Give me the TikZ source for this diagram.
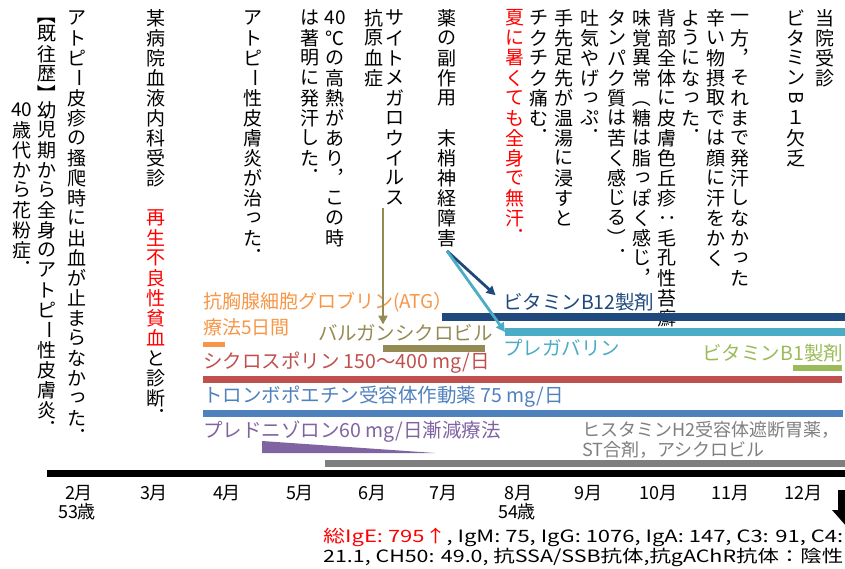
\documentclass[tikz,border=0pt]{standalone}
\usepackage{fontspec}
\setmainfont{Noto Sans CJK JP}
\usepackage{graphicx}
\usetikzlibrary{arrows.meta}
\XeTeXuseglyphmetrics=1
\definecolor{cOrange}{HTML}{F79646}
\definecolor{cOlive}{HTML}{948A54}
\definecolor{cNavy}{HTML}{1F497D}
\definecolor{cLblue}{HTML}{4BACC6}
\definecolor{cGreen}{HTML}{9BBB59}
\definecolor{cRed}{HTML}{C0504D}
\definecolor{cBlue}{HTML}{4F81BD}
\definecolor{cPurple}{HTML}{8064A2}
\definecolor{cGray}{HTML}{7F7F7F}
\definecolor{cAlert}{HTML}{FF0000}
\makeatletter
\newdimen\vt@pitch \vt@pitch=20pt
\def\vt@end{}
\def\vt@endmark{\vt@end}
\newcommand\vstack[1]{\vbox{\offinterlineskip\vt@loop#1\vt@end}}
\def\vt@loop#1{\def\vt@arg{#1}\ifx\vt@arg\vt@endmark\else\vt@cell{#1}\expandafter\vt@loop\fi}
\def\vt@box#1{\vbox to\vt@pitch{\vss\hbox to1em{\hss#1\hss}\vss}}
\def\vt@cell#1{%
 \ifcsname vtrot@\detokenize{#1}\endcsname
   \vt@box{\rotatebox[origin=c]{-90}{#1}}%
 \else\ifcsname vtpun@\detokenize{#1}\endcsname
   \vbox to\vt@pitch{\kern0.05em\hbox to1em{\kern0.58em\rlap{#1}\hss}\vss}%
 \else\ifcsname vtsml@\detokenize{#1}\endcsname
   \vt@box{\kern0.15em\raisebox{0.08em}{#1}}%
 \else\ifcsname vtbro@\detokenize{#1}\endcsname
   \vbox to0.8\vt@pitch{\vss\hbox to1em{\hss\rotatebox[origin=c]{-90}{#1}\hss}\kern0pt}%
 \else\ifcsname vtbrc@\detokenize{#1}\endcsname
   \vbox to0.8\vt@pitch{\hbox to1em{\hss\rotatebox[origin=c]{-90}{#1}\hss}\vss}%
 \else
   \vt@box{#1}%
 \fi\fi\fi\fi\fi}
\def\vt@def#1#2{\expandafter\def\csname vt#1@\detokenize{#2}\endcsname{}}
\vt@def{rot}{ー}\vt@def{rot}{（}\vt@def{rot}{）}\vt@def{rot}{：}\vt@def{rot}{B}
\vt@def{pun}{，}\vt@def{pun}{．}
\vt@def{sml}{っ}\vt@def{sml}{ッ}\vt@def{sml}{ゃ}\vt@def{sml}{ゅ}\vt@def{sml}{ょ}
\vt@def{bro}{【}\vt@def{brc}{】}
\makeatother
\newcommand\vsp{\hbox{}}
\tikzset{
  vcol/.style={anchor=north, inner sep=0pt, outer sep=0pt, font=\fontsize{19}{20}\selectfont},
  lbl/.style={anchor=west, inner sep=0pt, outer sep=0pt, font=\fontsize{19.5}{22}\selectfont},
  mon/.style={inner sep=0pt, font=\fontsize{18}{20}\selectfont},
  bar/.style={anchor=north west, inner sep=0pt, outer sep=0pt, draw=none},
  arr/.style={line width=2.8pt, -{Triangle[length=9pt,width=9pt]}}
}
\begin{document}
\begin{tikzpicture}[x=1pt,y=-1pt]
\useasboundingbox (0,0) rectangle (845,569);
% vertical columns
\node[vcol] (c1) at (825,8) {\vstack{当院受診}};
\node[vcol] (c2) at (796,8) {\vstack{ビタミンB１欠乏}};
\node[vcol] (c3) at (740,8) {\vstack{一方，それまで発汗しなかった}};
\node[vcol] (c4) at (716,8) {\vstack{辛い物摂取では顔に汗をかく}};
\node[vcol] (c5) at (691,8) {\vstack{ようになった．}};
\node[vcol] (c6) at (667,8) {\vstack{背部全体に皮膚色丘疹：毛孔性苔癬}};
\node[vcol] (c7) at (642,8) {\vstack{味覚異常（糖は脂っぽく感じ，}};
\node[vcol] (c8) at (617,8) {\vstack{タンパク質は苦く感じる）．}};
\node[vcol] (c9) at (590,8) {\vstack{吐気やげっぷ．}};
\node[vcol] (c10) at (564,8) {\vstack{手先足先が温湯に浸すと}};
\node[vcol] (c11) at (539,8) {\vstack{チクチク痛む．}};
\node[vcol, text=cAlert] (c12) at (515,8) {\vstack{夏に暑くても全身で無汗．}};
\node[vcol] (c13) at (447,8) {\vstack{薬の副作用\vsp 末梢神経障害}};
\node[vcol] (c14) at (395,8) {\vstack{サイトメガロウイルス}};
\node[vcol] (c15) at (374,8) {\vstack{抗原血症}};
\node[vcol] (c16) at (335,8) {\vstack{{40}℃の高熱があり，この時}};
\node[vcol] (c17) at (310,8) {\vstack{は著明に発汗した．}};
\node[vcol] (c18) at (253,8) {\vstack{アトピー性皮膚炎が治った．}};
\node[vcol] (c19a) at (156,8) {\vstack{某病院血液内科受診}};
\node[vcol, text=cAlert] (c19b) at (156,208) {\vstack{再生不良性貧血}};
\node[vcol] (c19c) at (156,348) {\vstack{と診断．}};
\node[vcol] (c20) at (77,8) {\vstack{アトピー皮疹の搔爬時に出血が止まらなかった．}};
\node[vcol] (c21) at (47,8) {\vstack{【既往歴】幼児期から全身のアトピー性皮膚炎．}};
\node[vcol] (c22) at (22,100) {\vstack{{40}歳代から花粉症．}};
% bars
\node[bar, fill=cOrange, minimum width=22pt, minimum height=5pt] (atgbar) at (203,342) {};
\node[bar, fill=cOlive, minimum width=102pt, minimum height=7pt] (vgcbar) at (383,345) {};
\node[bar, fill=cNavy, minimum width=410pt, minimum height=8pt] (b12bar) at (442,313) {};
\node[bar, fill=cLblue, minimum width=345pt, minimum height=8pt] (pregbar) at (505,328) {};
\node[bar, fill=cGreen, minimum width=49pt, minimum height=6pt] (b1bar) at (793,365) {};
\node[bar, fill=cRed, minimum width=639pt, minimum height=7pt] (cyabar) at (203,376) {};
\node[bar, fill=cBlue, minimum width=640pt, minimum height=7pt] (tpobar) at (203,410) {};
\fill[cPurple] (262,441) -- (262,453) -- (435,453) -- cycle;
\node[bar, fill=cGray, minimum width=530pt, minimum height=7pt] (h2bar) at (325,460) {};
\node[bar, fill=black, minimum width=810pt, minimum height=7pt] (tline) at (47,470) {};
% labels
\node[lbl, text=cOrange, font=\fontsize{19}{22}\selectfont] (atg1) at (203,302) {抗胸腺細胞グロブリン(ATG）};
\node[lbl, text=cOrange, font=\fontsize{19}{22}\selectfont] (atg2) at (203,327) {療法5日間};
\node[lbl, text=cOlive] (vgctext) at (318,333) {バルガンシクロビル};
\node[lbl, text=cNavy] (b12text) at (503,302) {ビタミンB12製剤};
\node[lbl, text=cLblue] (pregtext) at (503,348) {プレガバリン};
\node[lbl, text=cGreen, anchor=east] (b1text) at (843,353) {ビタミンB1製剤};
\node[lbl, text=cRed] (cyatext) at (203,363) {シクロスポリン 150～400 mg/日};
\node[lbl, text=cBlue] (tpotext) at (203,397) {トロンボポエチン受容体作動薬 75 mg/日};
\node[lbl, text=cPurple] (psltext) at (203,432) {プレドニゾロン60 mg/日漸減療法};
\node[lbl, text=cGray, font=\fontsize{18}{22}\selectfont] (h2a) at (582,430) {ヒスタミンH2受容体遮断胃薬，};
\node[lbl, text=cGray, font=\fontsize{18}{22}\selectfont] (h2b) at (582,450) {ST合剤，アシクロビル};
% arrows
\draw[arr, cOlive] (c14.south -| vgcbar.west) -- (vgctext.north -| vgcbar.west);
\draw[arr, cNavy, shorten >=10pt] ([yshift=-3pt]c13.south) -- (b12text.west);
\draw[arr, cLblue] ([yshift=-3pt]c13.south) -- (pregbar.west);
% months
\node[mon] (m2) at (79,493) {2月};
\node[mon] (m3) at (154,493) {3月};
\node[mon] (m4) at (227,493) {4月};
\node[mon] (m5) at (300,493) {5月};
\node[mon] (m6) at (372,493) {6月};
\node[mon] (m7) at (443,493) {7月};
\node[mon] (m8) at (518,493) {8月};
\node[mon] (m9) at (588,493) {9月};
\node[mon] (m10) at (658,493) {10月};
\node[mon] (m11) at (730,493) {11月};
\node[mon] (m12) at (803,493) {12月};
\node[mon] (a53) at (77,512) {53歳};
\node[mon] (a54) at (517,512) {54歳};
% down arrow
\fill[black] (838,490) -- (856,490) -- (856,510) -- (862,510) -- (847,527) -- (832,510) -- (838,510) -- cycle;
% lab text
\node[anchor=west, inner sep=0pt, font=\fontsize{17}{20}\selectfont] (lab1) at (323,537) {\resizebox{520pt}{\height}{\textcolor{cAlert}{総IgE: 795↑}, IgM: 75, IgG: 1076, IgA: 147, C3: 91, C4:}};
\node[anchor=west, inner sep=0pt, font=\fontsize{17}{20}\selectfont] (lab2) at (323,557) {\resizebox{520pt}{\height}{21.1, CH50: 49.0, 抗SSA/SSB抗体,抗gAChR抗体：陰性}};
\end{tikzpicture}
\end{document}
